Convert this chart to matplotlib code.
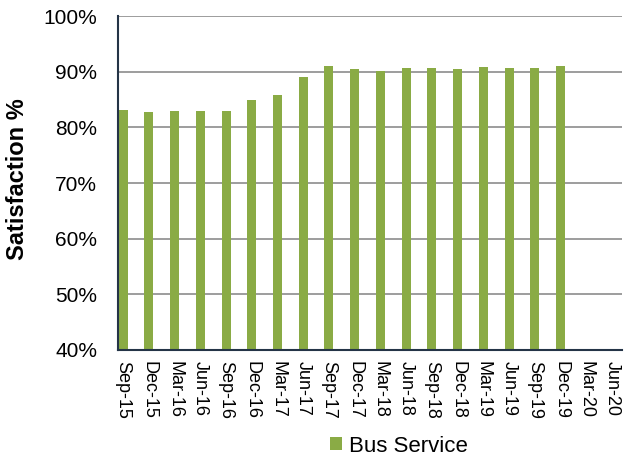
import matplotlib
matplotlib.use('Agg')
import matplotlib.pyplot as plt
from matplotlib import rcParams

rcParams['font.family'] = ['Liberation Sans', 'DejaVu Sans']

quarters = ['Sep-15', 'Dec-15', 'Mar-16', 'Jun-16', 'Sep-16', 'Dec-16', 'Mar-17',
            'Jun-17', 'Sep-17', 'Dec-17', 'Mar-18', 'Jun-18', 'Sep-18', 'Dec-18',
            'Mar-19', 'Jun-19', 'Sep-19', 'Dec-19', 'Mar-20', 'Jun-20']
satisfaction = [83.2, 82.7, 83.0, 83.0, 83.0, 84.9, 85.9, 89.0, 91.0, 90.5,
                90.1, 90.6, 90.6, 90.4, 90.8, 90.7, 90.6, 91.0]
yticks = [40, 50, 60, 70, 80, 90, 100]

fig = plt.figure(figsize=(6.27, 4.59), dpi=100)
ax = fig.add_axes([0.188, 0.2375, 0.804, 0.7275])

x = list(range(len(satisfaction)))
ax.bar(x, satisfaction, width=0.35, color='#8aab45', label='Bus Service', zorder=3)

ax.set_ylim(40, 100)
ax.set_xlim(-0.2, len(quarters) - 1 + 0.38)
ax.set_yticks(yticks)
ax.set_yticklabels(['%d%%' % v for v in yticks], fontsize=15)
ax.set_xticks(range(len(quarters)))
ax.set_xticklabels(quarters, rotation=-90, fontsize=13)
ax.tick_params(axis='x', length=0, pad=8)
ax.tick_params(axis='y', length=0, pad=15)

ax.yaxis.grid(True, color='#8c8c8c', linewidth=1.2, zorder=0)
for s in ['top', 'right']:
    ax.spines[s].set_visible(False)
for s in ['left', 'bottom']:
    ax.spines[s].set_color('#243447')
    ax.spines[s].set_linewidth(1.5)
    ax.spines[s].set_zorder(4)

fig.text(0.028, 0.61, 'Satisfaction %', rotation=90, ha='center', va='center',
         fontsize=17, fontweight='bold')

fig.legend(loc='center', bbox_to_anchor=(0.636, 0.028), frameon=False, fontsize=16,
           handlelength=0.55, handleheight=0.55, handletextpad=0.3,
           borderpad=0, borderaxespad=0)

plt.savefig('out.png', dpi=100)
